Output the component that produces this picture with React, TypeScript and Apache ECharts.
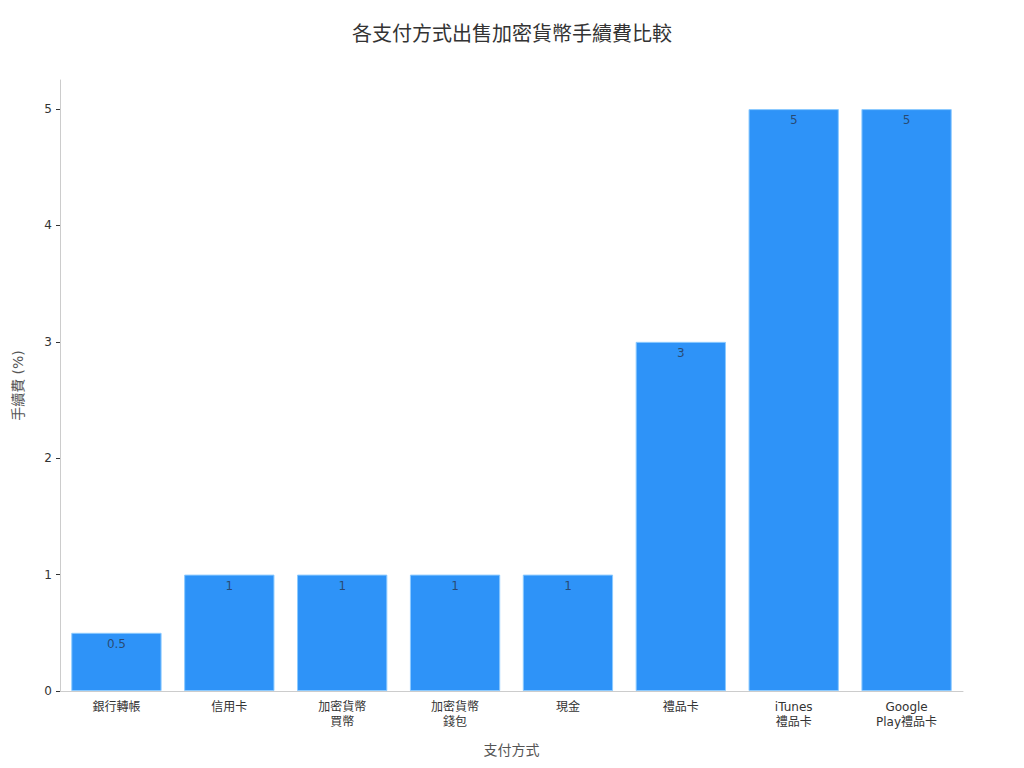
import React, { useEffect, useRef } from "react";
import * as echarts from "echarts";

const categories = [
  "銀行轉帳",
  "信用卡",
  "加密貨幣\n買幣",
  "加密貨幣\n錢包",
  "現金",
  "禮品卡",
  "iTunes\n禮品卡",
  "Google\nPlay禮品卡",
];
const fees = [0.5, 1, 1, 1, 1, 3, 5, 5];
const yTicks = [0, 1, 2, 3, 4, 5];

const FONT = "'DejaVu Sans', 'Noto Sans CJK TC', sans-serif";

export default function App() {
  const ref = useRef<HTMLDivElement>(null);
  useEffect(() => {
    if (!ref.current) return;
    const chart = echarts.init(ref.current, undefined, { renderer: "svg" });
    chart.setOption({
      animation: false,
      textStyle: { fontFamily: FONT },
      title: {
        text: "各支付方式出售加密貨幣手續費比較",
        left: "center",
        top: 11,
        textStyle: { fontSize: 20, fontWeight: "normal", color: "#333", fontFamily: FONT },
      },
      grid: { left: 52, right: 53, top: 72, bottom: 69, containLabel: false, outerBoundsMode: "none" },
      xAxis: {
        type: "category",
        data: categories,
        name: "支付方式",
        nameLocation: "middle",
        nameGap: 52,
        nameTextStyle: { fontSize: 14, color: "#555", fontFamily: FONT },
        axisLine: { lineStyle: { color: "#ccc" } },
        axisTick: { alignWithLabel: true, length: 4, lineStyle: { color: "#333" } },
        axisLabel: { fontSize: 12, color: "#333", margin: 8, lineHeight: 15, fontFamily: FONT },
      },
      yAxis: {
        type: "value",
        min: 0,
        max: 5.25,
        interval: 1,
        name: "手續費 (%)",
        nameLocation: "middle",
        nameGap: 35,
        nameTextStyle: { fontSize: 14, color: "#555", fontFamily: FONT },
        splitLine: { show: false },
        axisLine: { show: true, lineStyle: { color: "#ccc" } },
        axisTick: { show: true, length: 4, lineStyle: { color: "#333" }, customValues: yTicks },
        axisLabel: { fontSize: 12, color: "#333", margin: 8, customValues: yTicks, fontFamily: FONT },
      },
      series: [
        {
          type: "bar",
          data: fees,
          barWidth: "80%",
          itemStyle: { color: "#2e93f8", borderColor: "#8ccaff", borderWidth: 1 },
          label: {
            show: true,
            position: "insideTop",
            distance: 5,
            fontSize: 12,
            color: "rgba(40,60,90,0.85)",
            fontFamily: FONT,
          },
        },
      ],
    });
    return () => chart.dispose();
  }, []);
  return <div ref={ref} style={{ width: 1008, height: 752 }} />;
}
